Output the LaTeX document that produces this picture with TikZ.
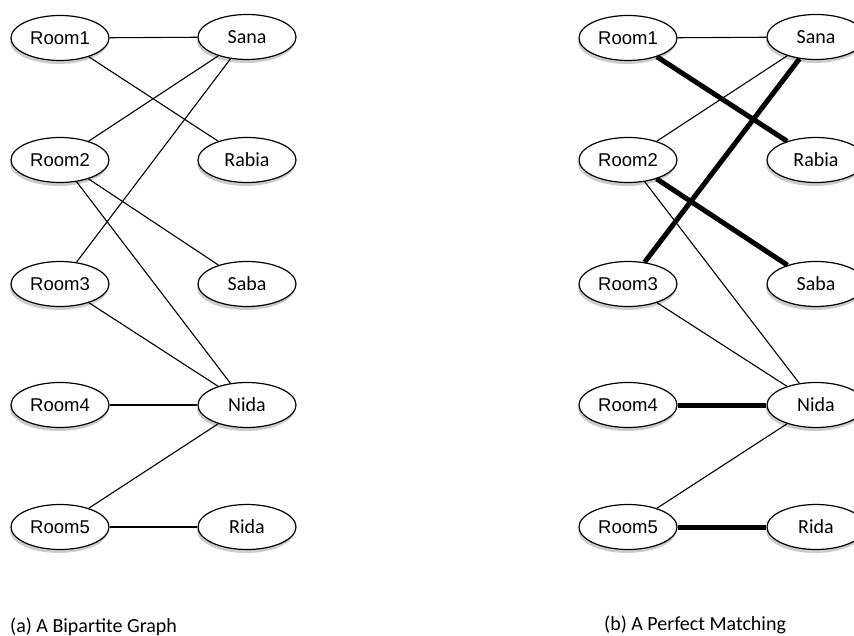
\documentclass[tikz,border=0pt]{standalone}
\usepackage{fontspec}
\setmainfont{Liberation Sans}
\newfontfamily\arialf{Liberation Sans}
\newfontfamily\calib{Carlito}
\usetikzlibrary{shadows,shapes.geometric}
\begin{document}
\begin{tikzpicture}[x=1pt,y=-1pt,
  vtx/.style={draw, ellipse, line width=1.2pt, fill=white, minimum width=98pt, minimum height=45pt, inner sep=0pt,
    drop shadow={opacity=0.4, shadow xshift=-1pt, shadow yshift=-3.5pt}},
  roomv/.style={vtx, font=\arialf\fontsize{18.5}{20}\selectfont},
  namev/.style={vtx, font=\calib\fontsize{20}{22}\selectfont},
  thin edge/.style={line width=1.1pt},
  thick edge/.style={line width=5pt},
  captext/.style={font=\calib\fontsize{20}{24}\selectfont, anchor=west, inner sep=0pt}]
\useasboundingbox (0,0) rectangle (854,636);
\clip (0,0) rectangle (854,636);
\fill[white] (0,0) rectangle (854,636);
% left graph
\node[roomv] (a1) at (60,38) {Room1};
\node[roomv] (a2) at (60,160) {Room2};
\node[roomv] (a3) at (60,284) {Room3};
\node[roomv] (a4) at (60,405) {Room4};
\node[roomv] (a5) at (60,527) {Room5};
\node[namev] (b1) at (247,37) {Sana};
\node[namev] (b2) at (247,160) {Rabia};
\node[namev] (b3) at (247,284) {Saba};
\node[namev] (b4) at (247,405) {Nida};
\node[namev] (b5) at (247,527) {Rida};
\draw[thin edge] (a1) -- (b1);
\draw[thin edge] (a1) -- (b2);
\draw[thin edge] (a2) -- (b1);
\draw[thin edge] (a3) -- (b1);
\draw[thin edge] (a2) -- (b3);
\draw[thin edge] (a2) -- (b4);
\draw[thin edge] (a3) -- (b4);
\draw[thin edge] (a4) -- (b4);
\draw[thin edge] (a5) -- (b4);
\draw[thin edge] (a5) -- (b5);
% right graph
\node[roomv] (c1) at (628,38) {Room1};
\node[roomv] (c2) at (628,160) {Room2};
\node[roomv] (c3) at (628,284) {Room3};
\node[roomv] (c4) at (628,405) {Room4};
\node[roomv] (c5) at (628,527) {Room5};
\node[namev] (d1) at (816,37) {Sana};
\node[namev] (d2) at (816,160) {Rabia};
\node[namev] (d3) at (816,284) {Saba};
\node[namev] (d4) at (816,405) {Nida};
\node[namev] (d5) at (816,527) {Rida};
\draw[thin edge] (c1) -- (d1);
\draw[thin edge] (c2) -- (d1);
\draw[thin edge] (c2) -- (d4);
\draw[thin edge] (c3) -- (d4);
\draw[thin edge] (c5) -- (d4);
\draw[thick edge] (c1) -- (d2);
\draw[thick edge] (c3) -- (d1);
\draw[thick edge] (c2) -- (d3);
\draw[thick edge] (c4) -- (d4);
\draw[thick edge] (c5) -- (d5);
% captions
\node[captext] (capa) at (10,627) {(a) A Bipartite Graph};
\node[captext] (capb) at (604,625) {(b) A Perfect Matching};
\end{tikzpicture}
\end{document}
